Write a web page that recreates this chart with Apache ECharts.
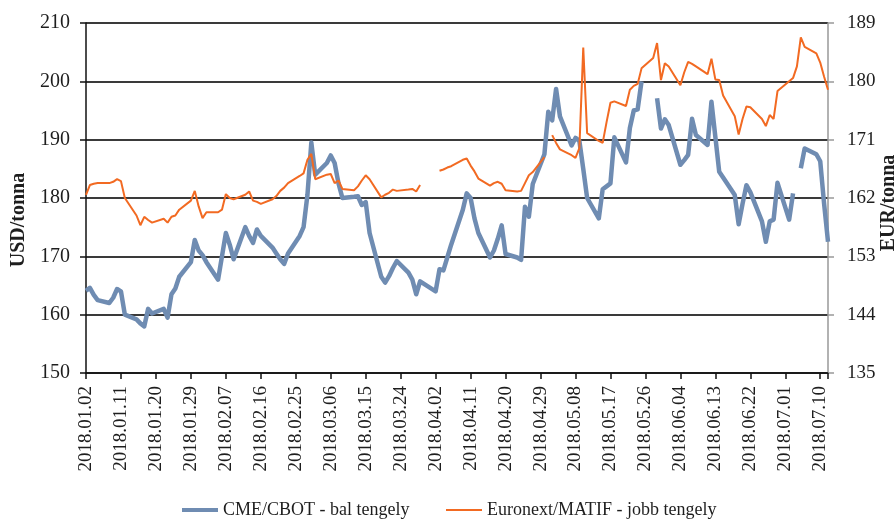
<!DOCTYPE html>
<html>
<head>
<meta charset="utf-8">
<script src="https://cdn.jsdelivr.net/npm/echarts@6/dist/echarts.min.js"></script>
<style>
  html, body { margin: 0; padding: 0; background: #fff; }
  #chart { width: 896px; height: 523px; }
</style>
</head>
<body>
<div id="chart"></div>
<script>
// trading rows: weekdays from 2018-01-02 to 2018-07-12, minus days with no row at all
const firstDay = '2018-01-02';
const lastDay = '2018-07-12';
const noRowDates = ['2018-03-30'];

// CME/CBOT, USD/tonna (left axis), one value per row, null = blank
const cbotUsd = [
  164.1, 164.6, 163.4, 162.5,
  162.0, 162.9, 164.4, 164.0, 160.0,
  159.2, 158.5, 158.0, 161.0, 160.2,
  161.0, 159.5, 163.5, 164.5, 166.5,
  169.0, 172.8, 171.0, 170.2, 169.0,
  166.0, 170.0, 174.0, 172.0, 169.5,
  175.0, 173.5, 172.3, 174.6, 173.5,
  171.5, 170.5, 169.5, 168.7, 170.5,
  173.5, 175.0, 180.5, 189.5, 184.0,
  186.0, 187.3, 186.0, 182.5, 180.0,
  180.2, 180.3, 178.8, 179.3, 174.0,
  166.5, 165.5, 166.6, 168.0, 169.2,
  167.2, 166.0, 163.5, 165.7,
  164.0, 167.8, 167.6, 169.8, 172.0,
  178.0, 180.8, 180.0, 176.5, 174.0,
  169.8, 171.0, 173.0, 175.3, 170.4,
  169.8, 169.4, 178.5, 176.8, 182.4,
  187.5, 194.8, 193.3, 198.7, 194.0,
  189.0, 190.3, 189.8, 185.0, 180.0,
  176.5, 181.5, 182.0, 182.5, 190.4,
  186.1, 192.0, 195.0, 195.2, 200.0,
  null, 197.1, 191.9, 193.5, 192.5,
  185.7, 186.5, 187.4, 193.6, 190.8,
  189.1, 196.5, 190.5, 184.5, 183.5,
  180.5, 175.5, 179.0, 182.2, 181.0,
  176.0, 172.5, 176.0, 176.3, 182.6,
  176.3, 180.8, null, 185.1, 188.5,
  187.5, 186.3, 179.0, 172.5
];

// Euronext/MATIF, EUR/tonna (right axis)
const matifEur = [
  162.5, 164.0, 164.2, 164.3,
  164.3, 164.5, 164.9, 164.6, 162.0,
  159.3, 157.8, 159.1, 158.6, 158.2,
  158.8, 158.2, 159.1, 159.3, 160.2,
  161.6, 163.1, 160.7, 158.9, 159.8,
  159.8, 160.2, 162.6, 162.0, 161.8,
  162.5, 163.0, 161.6, 161.4, 161.1,
  161.8, 162.3, 163.1, 163.6, 164.3,
  165.4, 165.8, 167.9, 168.8, 164.9,
  165.6, 165.7, 164.3, 164.7, 163.4,
  163.2, 163.8, 164.7, 165.5, 164.9,
  162.1, 162.5, 162.8, 163.3, 163.1,
  163.3, 163.4, 163.0, 164.0,
  null, 166.2, 166.4, 166.7, 166.9,
  167.9, 168.1, 167.0, 166.1, 165.0,
  163.9, 164.3, 164.5, 164.2, 163.2,
  163.0, 163.1, 164.3, 165.5, 166.0,
  168.3, null, 171.7, 170.5, 169.5,
  168.6, 168.2, 169.7, 185.2, 172.0,
  170.8, 170.5, 173.7, 176.7, 176.9,
  176.2, 178.7, 179.3, 179.6, 182.0,
  183.6, 185.9, 180.2, 182.8, 182.3,
  179.4, 181.4, 183.0, 182.7, 182.3,
  181.1, 183.5, 180.3, 180.2, 177.8,
  174.6, 171.8, 174.2, 176.1, 176.0,
  174.2, 173.1, 174.8, 174.2, 178.5,
  180.0, 180.5, 182.3, 186.8, 185.3,
  184.3, 182.9, 180.7, 178.7
];

const xTickLabels = [
  '2018.01.02', '2018.01.11', '2018.01.20', '2018.01.29', '2018.02.07', '2018.02.16',
  '2018.02.25', '2018.03.06', '2018.03.15', '2018.03.24', '2018.04.02', '2018.04.11',
  '2018.04.20', '2018.04.29', '2018.05.08', '2018.05.17', '2018.05.26', '2018.06.04',
  '2018.06.13', '2018.06.22', '2018.07.01', '2018.07.10'
];
const usdTicks = [150, 160, 170, 180, 190, 200, 210];
const eurTicks = [135, 144, 153, 162, 171, 180, 189];

const seriesNames = ['CME/CBOT - bal tengely', 'Euronext/MATIF - jobb tengely'];

// day offsets of the rows
const DAY = 86400000;
const t0 = Date.parse(firstDay + 'T00:00:00Z');
const t1 = Date.parse(lastDay + 'T00:00:00Z');
const rowDays = [];
for (let t = t0; t <= t1; t += DAY) {
  const wd = new Date(t).getUTCDay();
  const iso = new Date(t).toISOString().slice(0, 10);
  if (wd === 0 || wd === 6 || noRowDates.includes(iso)) continue;
  rowDays.push((t - t0) / DAY);
}
const cbotData = rowDays.map((d, i) => [d, cbotUsd[i]]);
const matifData = rowDays.map((d, i) => [d, matifEur[i]]);
const tickStep = 9;

const serif = '"Liberation Serif", "Times New Roman", serif';
const txt = '#1e1e1e';

const chart = echarts.init(document.getElementById('chart'));
chart.setOption({
  animation: false,
  backgroundColor: '#fff',
  grid: { left: 86, right: 68, top: 23, bottom: 150 },
  xAxis: {
    type: 'value',
    min: 0,
    max: (t1 - t0) / DAY,
    interval: tickStep,
    axisLine: { lineStyle: { color: '#111', width: 1.5 } },
    axisTick: { length: 6, lineStyle: { color: '#111', width: 1.5 } },
    splitLine: { show: false },
    axisLabel: {
      rotate: 90,
      margin: 13,
      fontFamily: serif,
      fontSize: 19,
      color: txt,
      formatter: v => (v % tickStep === 0 ? (xTickLabels[v / tickStep] || '') : '')
    }
  },
  yAxis: [
    {
      type: 'value',
      min: usdTicks[0],
      max: usdTicks[usdTicks.length - 1],
      interval: usdTicks[1] - usdTicks[0],
      axisLine: { show: true, lineStyle: { color: '#111', width: 1.5 } },
      axisTick: { show: true, length: 6, lineStyle: { color: '#111', width: 1.5 } },
      splitLine: { lineStyle: { color: '#3a3a3a', width: 1.8 } },
      axisLabel: { margin: 16, fontFamily: serif, fontSize: 20, color: txt }
    },
    {
      type: 'value',
      position: 'right',
      min: eurTicks[0],
      max: eurTicks[eurTicks.length - 1],
      interval: eurTicks[1] - eurTicks[0],
      axisLine: { show: true, lineStyle: { color: '#999', width: 1.5 } },
      axisTick: { show: true, length: 6, lineStyle: { color: '#999', width: 1.5 } },
      splitLine: { show: false },
      axisLabel: { margin: 19, fontFamily: serif, fontSize: 19, color: txt }
    }
  ],
  legend: [
    {
      data: [seriesNames[0]],
      left: 177, top: 496,
      icon: 'rect', itemWidth: 36, itemHeight: 4,
      textStyle: { fontFamily: serif, fontSize: 18, color: txt }
    },
    {
      data: [seriesNames[1]],
      left: 441, top: 496,
      icon: 'rect', itemWidth: 36, itemHeight: 2,
      textStyle: { fontFamily: serif, fontSize: 18, color: txt }
    }
  ],
  graphic: [
    {
      type: 'text', x: 19, y: 220, rotation: Math.PI / 2,
      style: { text: 'USD/tonna', font: 'bold 20px ' + serif, fill: txt, align: 'center', verticalAlign: 'middle' }
    },
    {
      type: 'text', x: 889, y: 203, rotation: Math.PI / 2,
      style: { text: 'EUR/tonna', font: 'bold 20px ' + serif, fill: txt, align: 'center', verticalAlign: 'middle' }
    }
  ],
  series: [
    {
      name: seriesNames[0],
      type: 'line',
      yAxisIndex: 0,
      data: cbotData,
      color: '#6f8cb2',
      showSymbol: false,
      connectNulls: false,
      lineStyle: { width: 4.5, color: '#6f8cb2', join: 'round' }
    },
    {
      name: seriesNames[1],
      type: 'line',
      yAxisIndex: 1,
      data: matifData,
      color: '#f26a22',
      showSymbol: false,
      connectNulls: false,
      lineStyle: { width: 2, color: '#f26a22' }
    }
  ]
});
</script>
</body>
</html>
